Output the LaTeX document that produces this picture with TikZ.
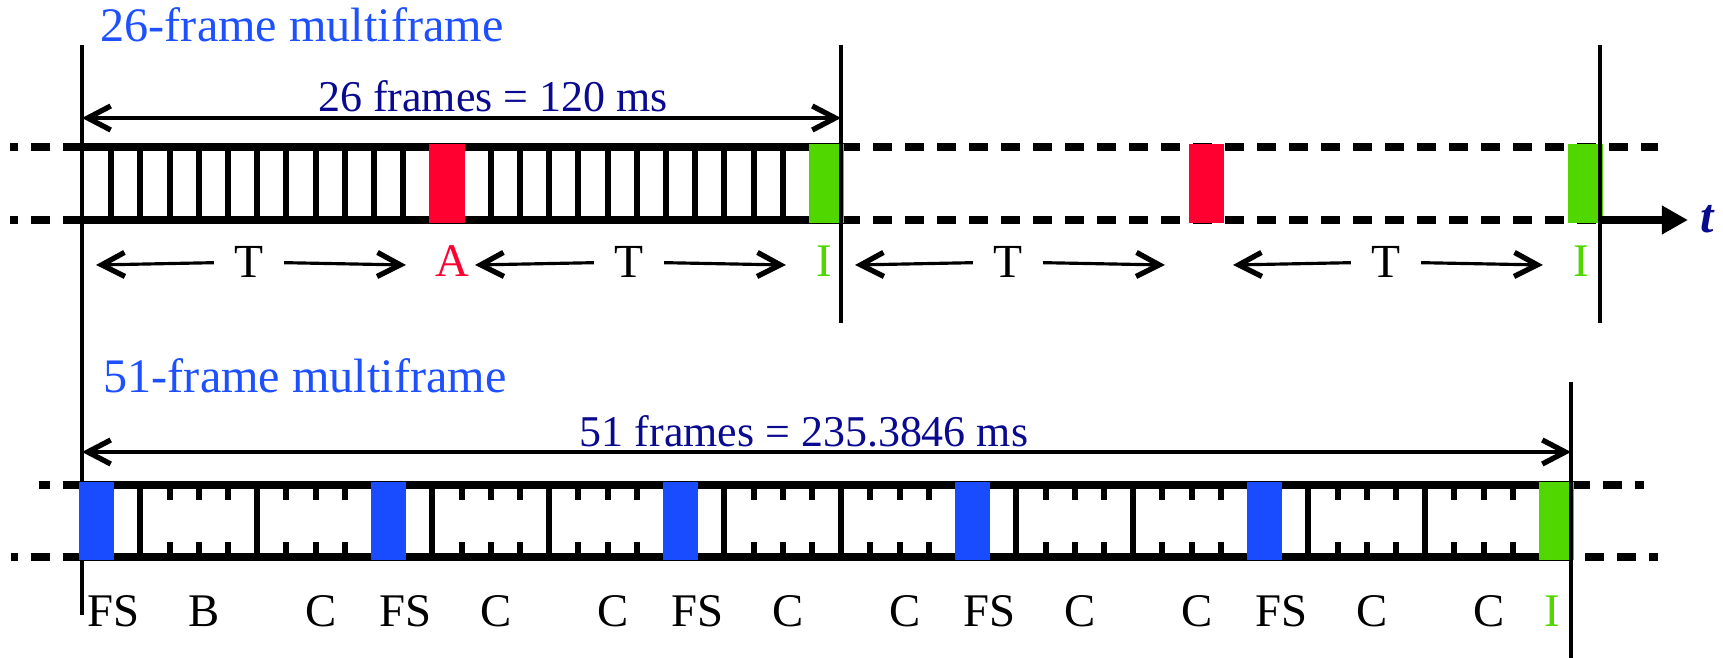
\documentclass[tikz,border=0pt]{standalone}
\usepackage{fontspec}
\setmainfont{Liberation Serif}
\usepackage{tikz}
\usetikzlibrary{arrows.meta}

\definecolor{titleblue}{RGB}{30,80,255}
\definecolor{dimnavy}{RGB}{10,10,145}
\definecolor{slotred}{RGB}{255,0,48}
\definecolor{slotgreen}{RGB}{80,215,0}
\definecolor{slotblue}{RGB}{25,75,255}

\tikzset{
  barb/.tip={Straight Barb[length=2.3mm,width=2.4mm,line width=1.5pt]},
  bandline/.style={line width=2pt},
  bandext/.style={line width=2pt, dash pattern=on 1.9mm off 1.3mm},
  frametick/.style={line width=1.7pt},
  shorttick/.style={line width=1.7pt},
  marker/.style={line width=1.3pt},
  dimarrow/.style={line width=0.9pt, barb-barb},
  halfspan/.style={line width=0.9pt, -barb},
  title/.style={titleblue, anchor=base west, inner sep=0pt, font=\fontsize{13.7}{16}\selectfont},
  dimlabel/.style={dimnavy, anchor=base, inner sep=0pt, font=\fontsize{12.5}{15}\selectfont},
  slotlabel/.style={anchor=base, inner sep=0pt, font=\fontsize{13.3}{15}\selectfont},
  period/.style={inner xsep=2mm, inner ysep=0pt, font=\fontsize{13.5}{15}\selectfont}
}

\begin{document}
\begin{tikzpicture}[x=0.01cm, y=-0.01cm]
    \useasboundingbox (0,0) rectangle (1723,658);

    % colored slot over frame #1, from y #2 to y #3
    \newcommand{\slotfill}[4]{\fill[#4] ({82+(#1)*29.2-3},#2) rectangle ({82+(#1)*29.2+32.2},#3);}

    %%% 26-frame multiframe
    \node[title] (mf26) at (100,42) {26-frame multiframe};

    \draw[bandline] (82,147) -- (841,147) (82,220) -- (841,220);
    \draw[bandext] (82,147) -- (10,147) (82,220) -- (10,220);
    \draw[bandext] (841,147) -- (1658,147) (841,220) -- (1600,220);
    \foreach \i in {1,...,25}
        \draw[frametick] ({82+\i*29.2},147) -- ({82+\i*29.2},220);

    \slotfill{12}{144}{223}{slotred}
    \slotfill{25}{144}{223}{slotgreen}
    \slotfill{38}{144}{223}{slotred}
    \slotfill{51}{144}{223}{slotgreen}

    % time axis
    \coordinate (axis-start) at (1600,220);
    \node[dimnavy, font=\fontsize{13.7}{16}\selectfont\bfseries\itshape, inner sep=0pt] (t) at (1707,219) {t};
    \draw[bandline, -{Triangle[length=2.6mm,width=2.7mm]}] (axis-start) -- (1688,220);

    \draw[marker] (82,45) -- (82,615);
    \draw[marker] (841,45) -- (841,323);
    \draw[marker] (1600,45) -- (1600,323);

    \coordinate (mf26-l) at (82,118);
    \coordinate (mf26-r) at (841,118);
    \draw[dimarrow] (mf26-l) -- (mf26-r);
    \node[dimlabel] (mf26-len) at (493,112) {26 frames = 120 ms};

    \foreach \n/\xl/\xt/\xr in {1/96/249/406, 2/475/629/786, 3/855/1008/1165, 4/1233/1386/1543} {
        \node[period] (T\n) at (\xt,262) {T};
        \coordinate (T\n-l) at (\xl,265);
        \coordinate (T\n-r) at (\xr,265);
        \draw[halfspan] (T\n) -- (T\n-l);
        \draw[halfspan] (T\n) -- (T\n-r);
    }
    \node[slotlabel, slotred] (A) at (452,277) {A};
    \node[slotlabel, slotgreen] (I1) at (824,277) {I};
    \node[slotlabel, slotgreen] (I2) at (1581,277) {I};

    %%% 51-frame multiframe
    \node[title] (mf51) at (103,393) {51-frame multiframe};

    \draw[bandline] (82,485) -- (1571,485) (82,557) -- (1571,557);
    \draw[bandext] (82,485) -- (39,485) (82,557) -- (11,557);
    \draw[bandext] (1571,485) -- (1644,485) (1585,557) -- (1658,557);

    \foreach \g in {0,...,4} {
        \foreach \k in {2,6}
            \draw[frametick] ({82+(10*\g+\k)*29.2},485) -- ({82+(10*\g+\k)*29.2},557);
        \foreach \k in {3,4,5,7,8,9}
            \draw[shorttick] ({82+(10*\g+\k)*29.2},485) -- ++(0,15)
                             ({82+(10*\g+\k)*29.2},557) -- ++(0,-15);
        \slotfill{10*\g}{482}{560}{slotblue}
    }
    \slotfill{50}{482}{560}{slotgreen}

    \draw[marker] (1571,382) -- (1571,658);

    \coordinate (mf51-l) at (82,452);
    \coordinate (mf51-r) at (1571,452);
    \draw[dimarrow] (mf51-l) -- (mf51-r);
    \node[dimlabel] (mf51-len) at (804,447) {51 frames = 235.3846 ms};

    \foreach \g/\first/\second in {0/B/C, 1/C/C, 2/C/C, 3/C/C, 4/C/C} {
        \node[slotlabel] (FS\g) at ({82+(10*\g+1)*29.2+2},627) {FS};
        \node[slotlabel] (first\g) at ({82+(10*\g+4)*29.2+5},627) {\first};
        \node[slotlabel] (second\g) at ({82+(10*\g+8)*29.2+5},627) {\second};
    }
    \node[slotlabel, slotgreen] (I3) at (1552,627) {I};
\end{tikzpicture}
\end{document}
